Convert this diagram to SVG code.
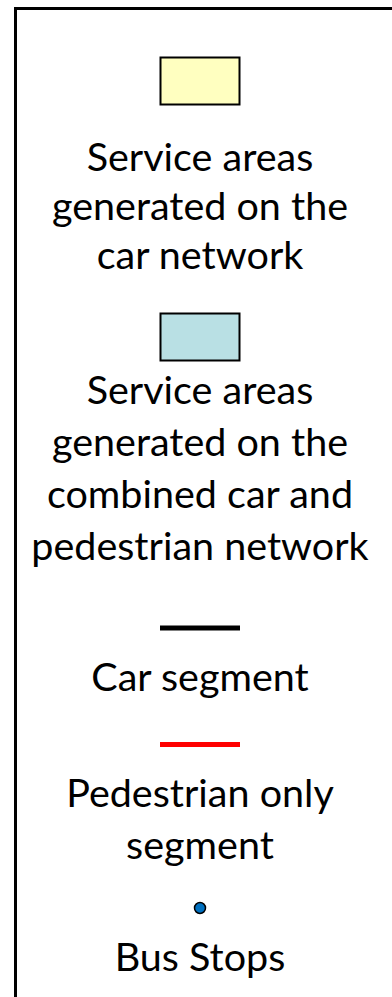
<svg xmlns="http://www.w3.org/2000/svg" width="392" height="997" viewBox="0 0 392 997">
<style>
text{font-family:Lato,"Open Sans",sans-serif;font-size:39.5px;fill:#000;text-anchor:middle}
.sw{stroke:#000;stroke-width:2}
</style>
<rect x="0" y="0" width="392" height="997" fill="#fff"/>
<g id="frame"><path d="M15.5 997 V8.5 H392" fill="none" stroke="#000" stroke-width="3"/></g>
<g id="car-area">
<rect class="sw" x="160.5" y="57.5" width="79" height="47" fill="#FFFFC0"/>
<text x="200" y="171">Service areas</text>
<text x="200" y="220">generated on the</text>
<text x="200" y="269">car network</text>
</g>
<g id="combined-area">
<rect class="sw" x="160.5" y="313.5" width="79" height="47" fill="#B9E0E4"/>
<text x="200" y="404">Service areas</text>
<text x="200" y="456">generated on the</text>
<text x="200" y="508">combined car and</text>
<text x="200" y="560">pedestrian network</text>
</g>
<g id="car-segment">
<line x1="160" y1="628" x2="240" y2="628" stroke="#000" stroke-width="5"/>
<text x="200" y="691">Car segment</text>
</g>
<g id="ped-segment">
<line x1="160" y1="744.5" x2="240" y2="744.5" stroke="#f00" stroke-width="5"/>
<text x="200" y="807">Pedestrian only</text>
<text x="200" y="859">segment</text>
</g>
<g id="bus-stops">
<circle cx="200" cy="908" r="5.5" fill="#0070C0" stroke="#000" stroke-width="1.5"/>
<text x="200" y="971">Bus Stops</text>
</g>
</svg>
